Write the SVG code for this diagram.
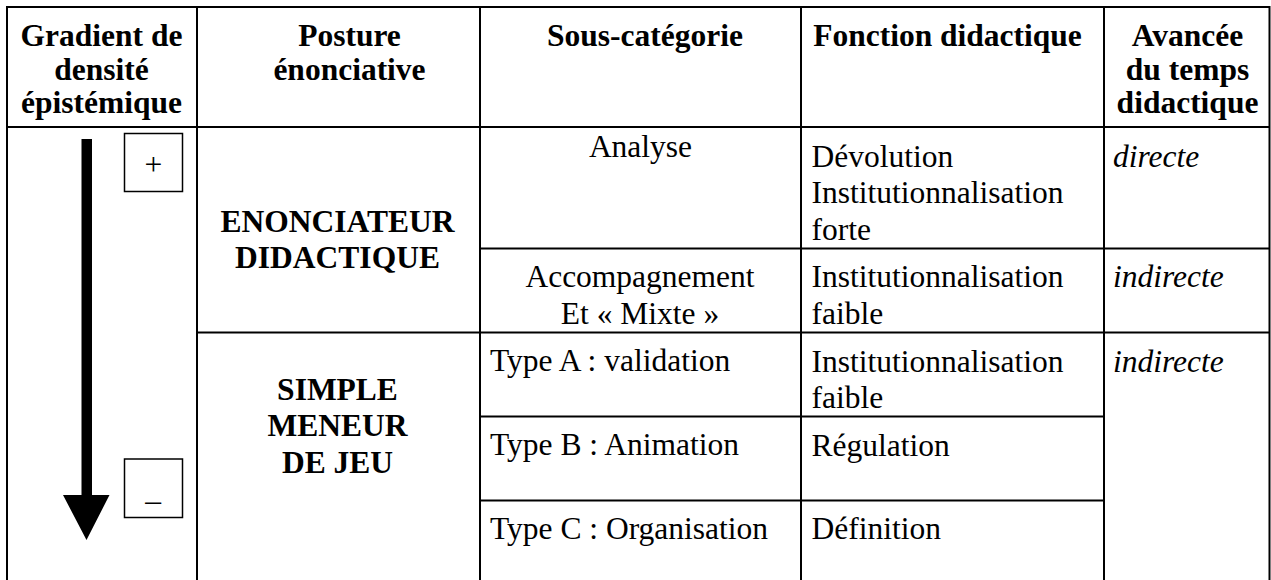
<svg xmlns="http://www.w3.org/2000/svg" width="1271" height="580" viewBox="0 0 1271 580">
<style>
.h{font-family:"Liberation Serif","Times New Roman",serif;font-weight:bold;font-size:31.5px;fill:#000}
.b{font-family:"Liberation Serif","Times New Roman",serif;font-size:31.5px;fill:#000}
.i{font-family:"Liberation Serif","Times New Roman",serif;font-style:italic;font-size:31.5px;fill:#000}
.c{text-anchor:middle}
.ln{stroke:#000;stroke-width:2;fill:none}
.bx{stroke:#000;stroke-width:1.5;fill:#fff}
</style>
<rect x="0" y="0" width="1271" height="580" fill="#fff"/>
<g id="grid">
<path class="ln" d="M6,7H1270M6,127H1270M7,6V580M197,7V580M480,7V580M801,7V580M1104,7V580M1269.5,6V580"/>
<path class="ln" d="M480,248.5H1270M197,332.5H1270M480,416.5H1104M480,500.5H1104"/>
</g>
<g id="header">
<text class="h c" x="101.5" y="46">Gradient de</text>
<text class="h c" x="101.5" y="79.5">densité</text>
<text class="h c" x="101.5" y="113">épistémique</text>
<text class="h c" x="349.5" y="46">Posture</text>
<text class="h c" x="349.5" y="79.5">énonciative</text>
<text class="h c" x="645" y="46">Sous-catégorie</text>
<text class="h c" x="947.5" y="46">Fonction didactique</text>
<text class="h c" x="1187.5" y="46">Avancée</text>
<text class="h c" x="1187.5" y="79.5">du temps</text>
<text class="h c" x="1187.5" y="113">didactique</text>
</g>
<g id="gradient">
<path d="M81.5,139H92V495H109.5L86.5,540L63,495H81.5Z" fill="#000"/>
<g id="plus-box">
<rect class="bx" x="124.5" y="133.5" width="58" height="58"/>
<text class="b c" x="153.5" y="175">+</text>
</g>
<g id="minus-box">
<rect class="bx" x="124.5" y="459" width="58" height="58.5"/>
<text class="b c" x="153" y="500">_</text>
</g>
</g>
<g id="posture-enonciateur">
<text class="h c" x="337.5" y="231.5">ENONCIATEUR</text>
<text class="h c" x="337.5" y="268">DIDACTIQUE</text>
</g>
<g id="posture-meneur">
<text class="h c" x="337.5" y="399.5">SIMPLE</text>
<text class="h c" x="337.5" y="436">MENEUR</text>
<text class="h c" x="337.5" y="473">DE JEU</text>
</g>
<g id="row-analyse">
<text class="b c" x="640.5" y="157">Analyse</text>
<text class="b" x="811.5" y="167">Dévolution</text>
<text class="b" x="811.5" y="203">Institutionnalisation</text>
<text class="b" x="811.5" y="239.5">forte</text>
<text class="i" x="1113" y="167">directe</text>
</g>
<g id="row-accompagnement">
<text class="b c" x="640" y="287">Accompagnement</text>
<text class="b c" x="640" y="323.5">Et « Mixte »</text>
<text class="b" x="811.5" y="287">Institutionnalisation</text>
<text class="b" x="811.5" y="323.5">faible</text>
<text class="i" x="1113" y="287">indirecte</text>
</g>
<g id="row-typeA">
<text class="b" x="490" y="371">Type A : validation</text>
<text class="b" x="811.5" y="371.5">Institutionnalisation</text>
<text class="b" x="811.5" y="408">faible</text>
<text class="i" x="1113" y="371.5">indirecte</text>
</g>
<g id="row-typeB">
<text class="b" x="490" y="455">Type B : Animation</text>
<text class="b" x="811.5" y="455.5">Régulation</text>
</g>
<g id="row-typeC">
<text class="b" x="490" y="539">Type C : Organisation</text>
<text class="b" x="811.5" y="539">Définition</text>
</g>
</svg>
